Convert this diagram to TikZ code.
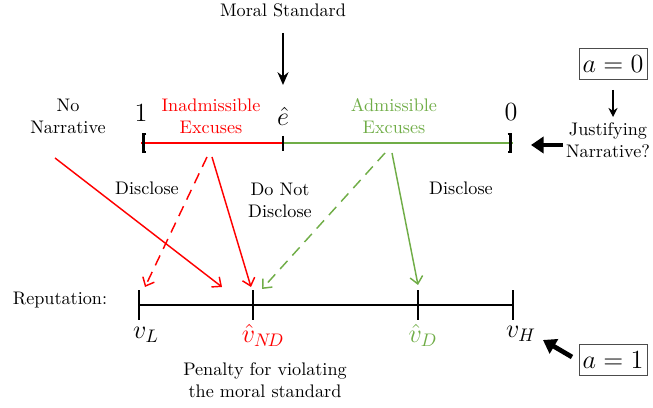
\documentclass[tikz,border=0pt]{standalone}
\usetikzlibrary{arrows.meta,positioning}
\definecolor{exred}{RGB}{255,0,0}
\definecolor{exgreen}{RGB}{112,173,71}
\begin{document}
\begin{tikzpicture}[x=0.55pt,y=-0.55pt,
    lbl/.style={align=center,inner sep=1pt},
    mathlbl/.style={inner sep=1pt,font=\Large},
    abox/.style={draw=black!70,inner sep=2pt,minimum width=32pt,minimum height=17pt,font=\Large},
    fatarrow/.style={line width=2.6pt,-{Triangle[length=7pt,width=9pt]}},
    choice/.style={thick,-{Straight Barb[length=4pt,width=7pt]}}]
    \useasboundingbox (0,0) rectangle (653,408);
    % labels
    \node[lbl] (moral) at (283,10) {Moral Standard};
    \node[lbl] (nonarr) at (68,116) {No\\Narrative};
    \node[lbl,text=exred] (inadm) at (211,116) {Inadmissible\\Excuses};
    \node[lbl,text=exgreen] (adm) at (394,116) {Admissible\\Excuses};
    \node[lbl,font=\Large] (one) at (141,113) {1};
    \node[lbl,font=\Large] (ehat) at (283,116) {$\hat{e}$};
    \node[lbl,font=\Large] (zero) at (511,112) {0};
    \node[lbl] (justif) at (608,140) {Justifying\\Narrative?};
    \node[abox] (azero) at (613,64) {$a=0$};
    \node[abox] (aone) at (613,360) {$a=1$};
    \node[lbl] (discl) at (147,188) {Disclose};
    \node[lbl] (notdiscl) at (280,200) {Do Not\\Disclose};
    \node[lbl] (disch) at (461,188) {Disclose};
    \node[lbl] (rep) at (60,300) {Reputation:};
    \node[mathlbl] (vl) at (146,335) {$v_L$};
    \node[mathlbl,text=exred] (vnd) at (263,335) {$\hat{v}_{N\!D}$};
    \node[mathlbl,text=exgreen] (vd) at (423,335) {$\hat{v}_D$};
    \node[mathlbl] (vh) at (521,334) {$v_H$};
    \node[lbl] (penalty) at (265,380) {Penalty for violating\\the moral standard};
    % excuse interval
    \coordinate (tl) at (141,143);
    \coordinate (te) at (283,143);
    \coordinate (tr) at (513,143);
    \draw[exred,thick] (tl) -- (te);
    \draw[exgreen,thick] (te) -- (tr);
    \draw[very thick] ([xshift=3]tl) ++(0,-9) -- ++(-3,0) -- ++(0,18) -- ++(3,0);
    \draw[very thick] ([xshift=-3]tr) ++(0,-9) -- ++(3,0) -- ++(0,18) -- ++(-3,0);
    \draw[very thick] (283,136) -- (283,151);
    % reputation line
    \coordinate (bl) at (139,305);
    \coordinate (bnd) at (253,305);
    \coordinate (bd) at (418,305);
    \coordinate (bh) at (513,305);
    \draw[very thick] (bl) -- (bh);
    \foreach \p in {bl,bnd,bd,bh}
        \draw[very thick] ([yshift=-8]\p) -- ([yshift=8]\p);
    % arrows
    \coordinate (moraltip) at (283,85);
    \draw[very thick,-{Stealth[length=7pt,width=6pt]}] (283,33) -- (moraltip);
    \coordinate (justtip) at (613,117);
    \draw[thick,-{Stealth[length=5pt,width=5pt]}] (azero.south) ++(0,10) -- (justtip);
    \coordinate (brtip) at (531,145);
    \draw[fatarrow] (563,145) -- (brtip);
    \coordinate (vhtip) at (543,340);
    \draw[fatarrow] (572,357) -- (vhtip);
    % choices
    \coordinate (nnstart) at (55,158);
    \coordinate (redA) at (207,157);
    \coordinate (redB) at (212,157);
    \coordinate (greenA) at (385,153);
    \coordinate (greenB) at (392,153);
    \draw[choice,exred] (nnstart) -- (222,287);
    \draw[choice,exred,dashed,dash pattern=on 6pt off 4pt] (redA) -- (145,287);
    \draw[choice,exred] (redB) -- (251,287);
    \draw[choice,exgreen,dashed,dash pattern=on 6pt off 4pt] (greenA) -- (262,289);
    \draw[choice,exgreen] (greenB) -- (418,285);
\end{tikzpicture}
\end{document}
